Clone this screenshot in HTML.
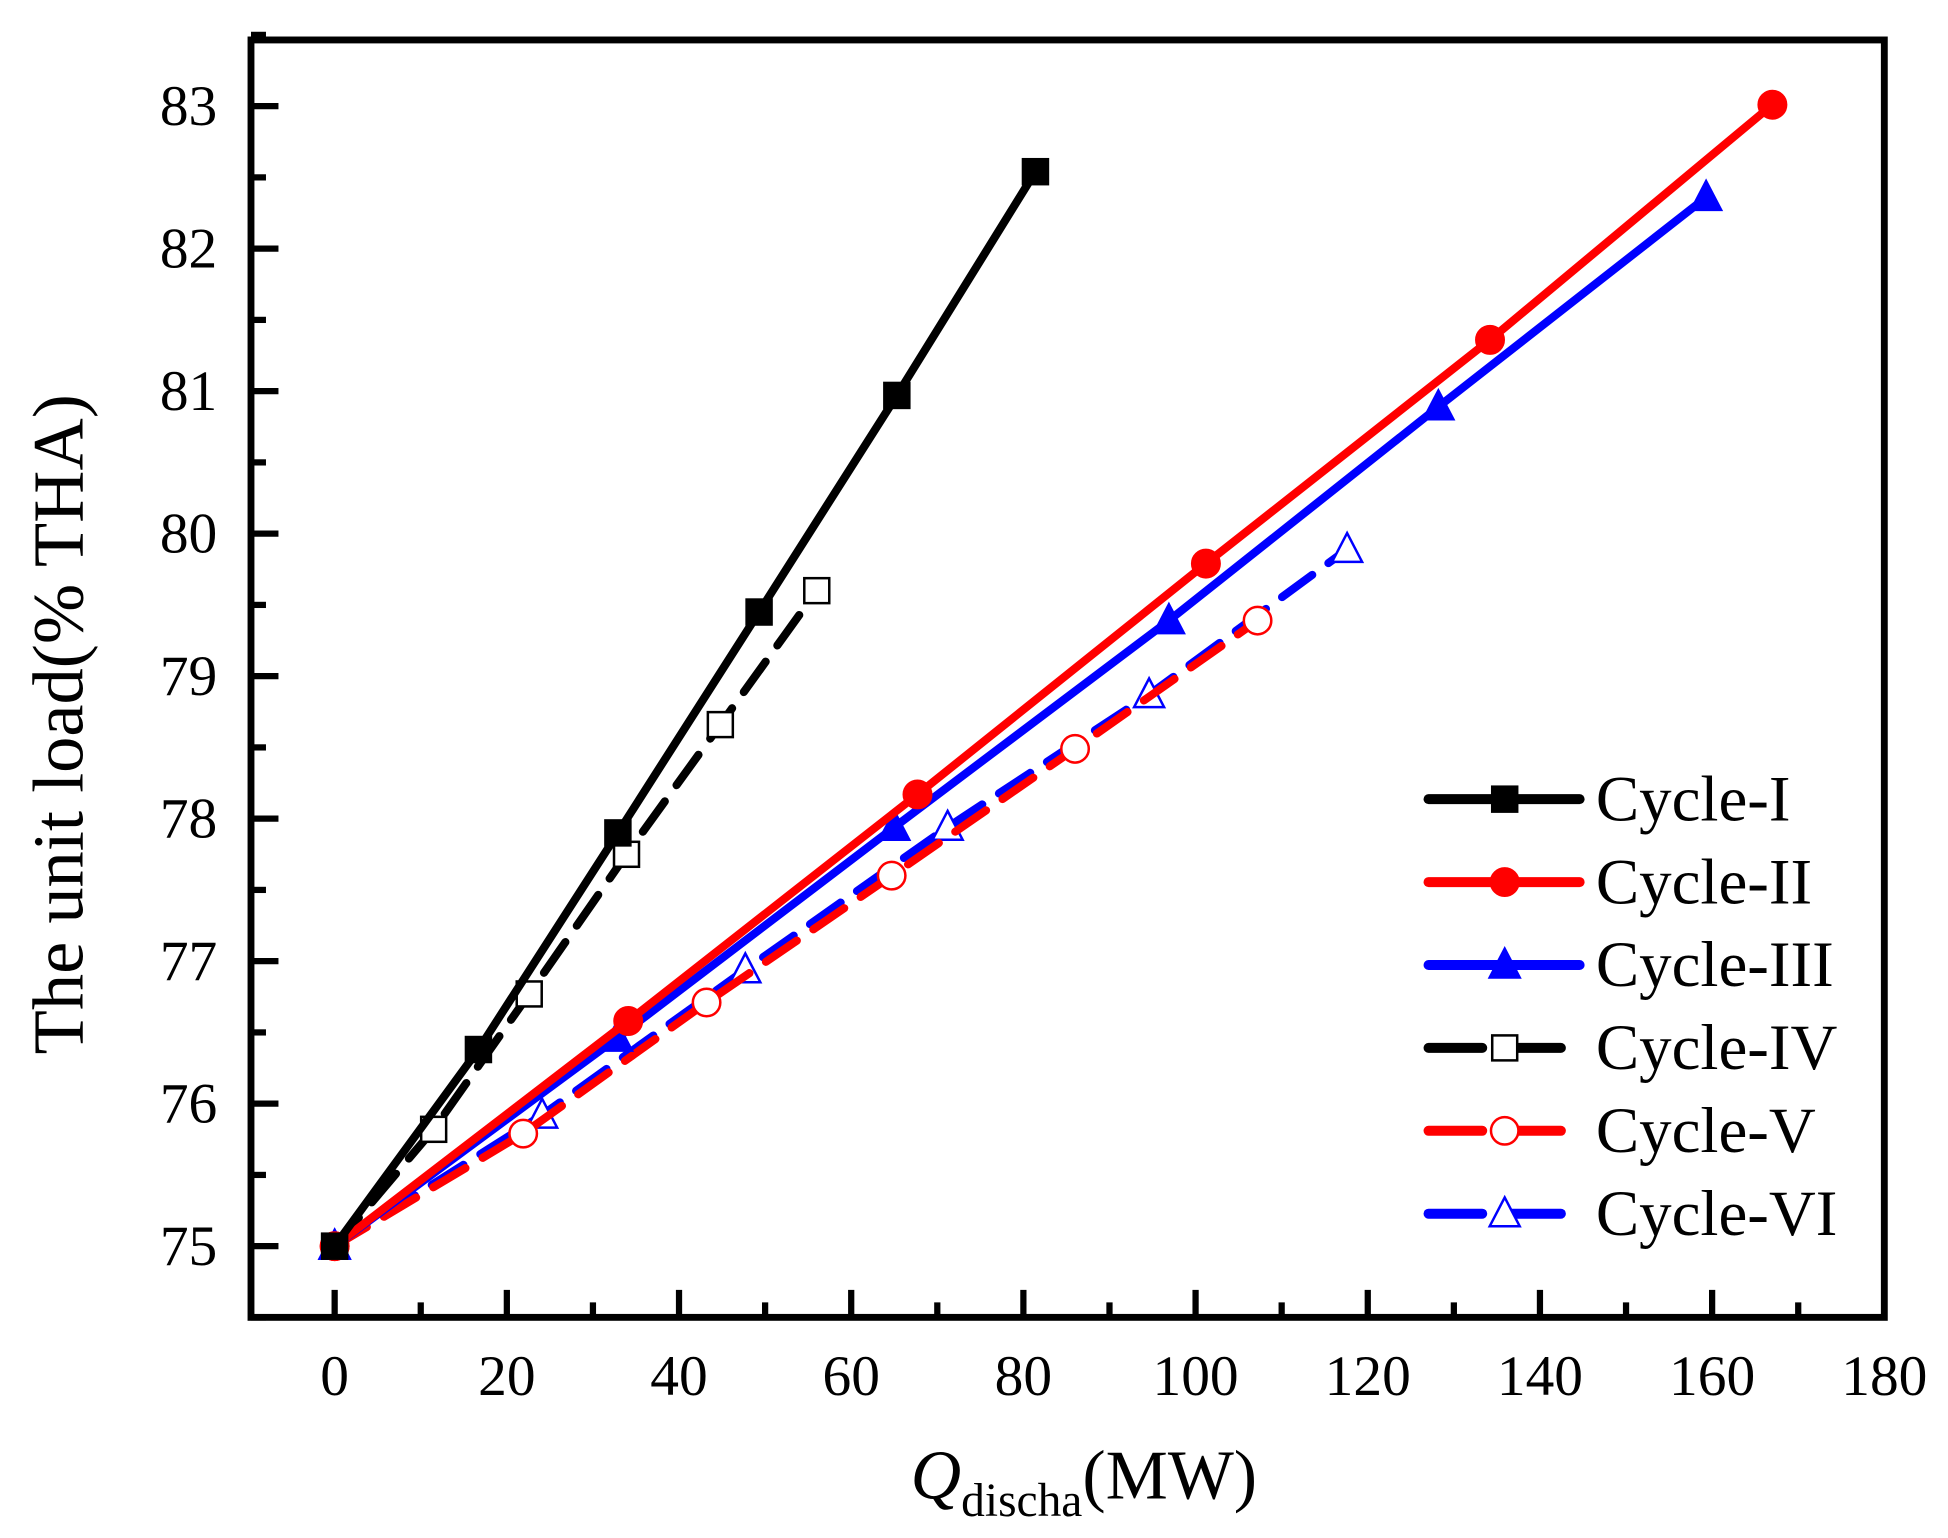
<!DOCTYPE html>
<html><head><meta charset="utf-8"><style>html,body{margin:0;padding:0;background:#fff}svg{display:block}</style></head>
<body>
<svg id="chart" width="1948" height="1538" viewBox="0 0 1560 1231.7" preserveAspectRatio="none" xmlns="http://www.w3.org/2000/svg" font-family="'Liberation Serif', serif">
<g id="ticks"></g>
<g id="series"></g>
<rect x="201" y="32" width="1308" height="1023" fill="none" stroke="#000" stroke-width="5.5"/>
<text transform="translate(66,580) rotate(-90)" text-anchor="middle" font-size="58">The unit load(% THA)</text>
<text x="868" y="1200" text-anchor="middle" font-size="56"><tspan font-style="italic">Q</tspan><tspan font-size="38" dy="14">discha</tspan><tspan dy="-14">(MW)</tspan></text>
<g id="legend"></g>
</svg>
<script>
const xTicks=[0,20,40,60,80,100,120,140,160,180];
const yTicks=[75,76,77,78,79,80,81,82,83];
const seriesNames=["Cycle-I","Cycle-II","Cycle-III","Cycle-IV","Cycle-V","Cycle-VI"];
const x1=[0,16.7,32.9,49.3,65.3,81.4];
const y1=[75,76.38,77.9,79.45,80.97,82.54];
const x2=[0,34.1,67.7,101.2,134.2,167];
const y2=[75,76.58,78.17,79.79,81.36,83.01];
const x3=[0,32.8,65,96.9,128.2,159.3];
const y3=[75,76.46,77.94,79.39,80.89,82.36];
const x4=[0,11.5,22.6,33.9,44.8,56];
const y4=[75,75.82,76.77,77.75,78.66,79.6];
const x5=[0,21.9,43.2,64.7,86,107.2];
const y5=[75,75.79,76.71,77.6,78.49,79.39];
const x6=[0,24.1,47.7,71.2,94.6,117.6];
const y6=[75,75.92,76.94,77.94,78.87,79.89];

const NS="http://www.w3.org/2000/svg";
function X(v){return 268+(v-0)*(1509-268)/180;}
function Y(v){return 998-(v-75)*(998-85)/8;}
function mk(tag,attrs,parent){const e=document.createElementNS(NS,tag);for(const k in attrs)e.setAttribute(k,attrs[k]);parent.appendChild(e);return e;}
const tg=document.getElementById('ticks');
for(let v=0;v<=180;v+=10){const major=v%20===0;
 const t=mk('line',{x1:X(v),x2:X(v),y1:1055,y2:1055-(major?22:12),stroke:'#000','stroke-width':5},tg);
 
 }
xTicks.forEach(v=>{const t=mk('text',{x:X(v),y:1117,'text-anchor':'middle','font-size':46},tg);t.textContent=v;
 
 });
for(let v=74.5;v<=83.5;v+=0.5){const major=Math.abs(v-Math.round(v))<0.01;
 const t=mk('line',{x1:201,x2:201+(major?22:12),y1:Y(v),y2:Y(v),stroke:'#000','stroke-width':5},tg);
 
 }
yTicks.forEach(v=>{const t=mk('text',{x:174,y:Y(v)+15,'text-anchor':'end','font-size':46},tg);t.textContent=v;
 
 });

const styles=[
 {c:'#000',dash:null,m:'sq',fill:true},
 {c:'#f00',dash:null,m:'ci',fill:true},
 {c:'#00f',dash:null,m:'tr',fill:true},
 {c:'#000',dash:'30 16',m:'sq',fill:false},
 {c:'#f00',dash:'30 16',m:'ci',fill:false},
 {c:'#00f',dash:'30 16',m:'tr',fill:false}];
const data=[[x1,y1],[x2,y2],[x3,y3],[x4,y4],[x5,y5],[x6,y6]];
function marker(g,type,cx,cy,st){let e;
 const f=st.fill?st.c:'#fff';
 if(type==='sq')e=mk('rect',{x:cx-10,y:cy-10,width:20,height:20,fill:f,stroke:st.c,'stroke-width':2},g);
 else if(type==='ci')e=mk('circle',{cx:cx,cy:cy,r:11,fill:f,stroke:st.c,'stroke-width':2},g);
 else e=mk('polygon',{points:`${cx},${cy-13} ${cx-12},${cy+10} ${cx+12},${cy+10}`,fill:f,stroke:st.c,'stroke-width':2},g);
 return e;}
const sg=document.getElementById('series');
const order=[5,4,3,2,1,0];
order.forEach(i=>{const st=styles[i];const [xs,ys]=data[i];
 const g=mk('g',{},sg);
 
 
 const pts=xs.map((x,k)=>X(x)+','+Y(ys[k])).join(' ');
 const l=mk('polyline',{points:pts,fill:'none',stroke:st.c,'stroke-width':6.5,'stroke-linecap':'round','stroke-linejoin':'round'},g);
 if(st.dash)l.setAttribute('stroke-dasharray',st.dash);
 
 
 xs.forEach((x,k)=>{const m=marker(g,st.m,X(x),Y(ys[k]),st);
  
  });
});
const lg=document.getElementById('legend');
seriesNames.forEach((n,i)=>{const st=styles[i];const cy=640+i*66.4;
 const g=mk('g',{},lg);
 
 
 if(st.dash){mk('line',{x1:1144,x2:1187,y1:cy,y2:cy,stroke:st.c,'stroke-width':8,'stroke-linecap':'round'},g);
  mk('line',{x1:1210,x2:1250,y1:cy,y2:cy,stroke:st.c,'stroke-width':8,'stroke-linecap':'round'},g);}
 else mk('line',{x1:1144,x2:1265,y1:cy,y2:cy,stroke:st.c,'stroke-width':8,'stroke-linecap':'round'},g);
 marker(g,st.m,1205,cy,st);
 const t=mk('text',{x:1278,y:cy+17,'font-size':52},g);t.textContent=n;
});
</script>
</body></html>
